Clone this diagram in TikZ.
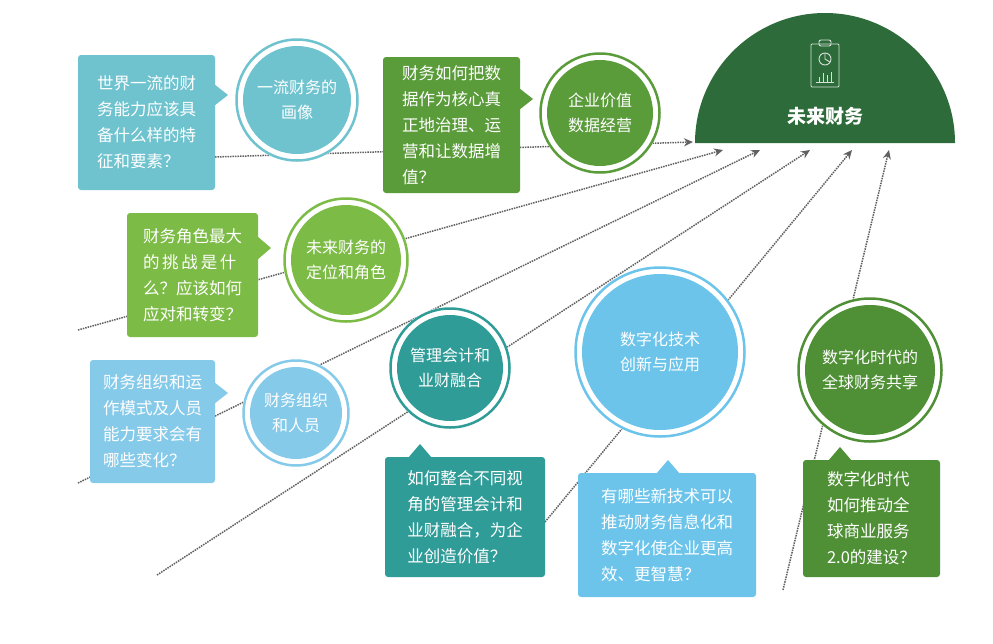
\documentclass[tikz,border=0pt]{standalone}
\usepackage{fontspec}
\setmainfont{Noto Sans CJK SC}
\usetikzlibrary{arrows.meta}
\definecolor{cteal}{HTML}{6EC3CF}
\definecolor{cdg}{HTML}{5A9B3A}
\definecolor{clg}{HTML}{7CBB45}
\definecolor{clb}{HTML}{86CAEA}
\definecolor{cdt}{HTML}{2F9C98}
\definecolor{cblue}{HTML}{6CC4EA}
\definecolor{cgr}{HTML}{4F9036}
\definecolor{cdome}{HTML}{2E6B3A}
\definecolor{cline}{HTML}{606060}
\tikzset{
  qbox/.style={rounded corners=3pt, inner sep=0pt, text=white, align=left,
    font=\fontsize{16.5}{26}\selectfont},
  ctext/.style={text=white, align=center, font=\fontsize{16}{25}\selectfont},
  link/.style={draw=cline, densely dotted, line width=1.5pt, -{Stealth[length=9pt,width=8pt]}},
}
\newcommand{\ring}[4]{% name, center, radius, color
  \fill[white] #2 circle (#3);
  \draw[#4, line width=2.5pt] #2 circle (#3-1.5);
  \fill[#4] #2 circle (#3-8);
  \coordinate (#1) at #2;}
\begin{document}
\begin{tikzpicture}[x=1pt,y=-1pt]
\useasboundingbox (0,0) rectangle (993,643);
\fill[white] (0,0) rectangle (993,643);
% dome
\fill[cdome] (695,143) arc[start angle=180, end angle=360, radius=130] -- cycle;
\node[text=white, font=\fontsize{19}{22}\selectfont\bfseries] (dome) at (825,116) {未来财务};
\begin{scope}[draw=white!80!cdome, line width=0.9pt]
  \draw[rounded corners=1pt] (811,44) rectangle (839,87);
  \draw[rounded corners=2pt] (819,40) rectangle (831,46);
  \draw (825,59) circle (6); \draw (825,53) -- (825,59) -- (830,62);
  \draw (816,82) -- (834,82); \draw (819,82) -- (819,77); \draw (823,82)--(823,73); \draw (827,82)--(827,75); \draw (831,82)--(831,72);
\end{scope}
% arrow end coordinates
\coordinate (e1) at (693,142);
\coordinate (e2) at (723,150);
\coordinate (e3) at (760,150);
\coordinate (e4) at (810,150);
\coordinate (e5) at (852,150);
\coordinate (e6) at (889,150);
\coordinate (s1) at (215,157);
\coordinate (s2) at (78,330);
\coordinate (s3) at (78,483);
\coordinate (s4) at (157,575);
\coordinate (s5) at (545,522);
\coordinate (s6) at (783,590);
\draw[link] (s1) -- (e1);
\draw[link] (s2) -- (e2);
\draw[link] (s3) -- (e3);
\draw[link] (s4) -- (e4);
\draw[link] (s5) -- (e5);
\draw[link] (s6) -- (e6);
% boxes
\fill[cteal, rounded corners=3pt] (78,55) rectangle (215,190);
\fill[cteal] (214,84) -- (228,95) -- (214,106) -- cycle;
\node[qbox] (b1) at (146.5,122.5) {世界一流的财\\务能力应该具\\备什么样的特\\征和要素？};
\fill[cdg, rounded corners=3pt] (383,57) rectangle (520,193);
\fill[cdg] (519,88) -- (533,99) -- (519,110) -- cycle;
\node[qbox] (b2) at (451.5,125) {财务如何把数\\据作为核心真\\正地治理、运\\营和让数据增\\值？};
\fill[clg, rounded corners=3pt] (127,213) rectangle (258,337);
\fill[clg] (257,236) -- (271,248) -- (257,260) -- cycle;
\node[qbox] (b3) at (192.5,275) {财务角色最大\\的\,挑\,战\,是\,什\\么？应该如何\\应对和转变？};
\fill[clb, rounded corners=3pt] (90,360) rectangle (215,483);
\fill[clb] (214,382) -- (228,393) -- (214,404) -- cycle;
\node[qbox] (b4) at (152.5,421.5) {财务组织和运\\作模式及人员\\能力要求会有\\哪些变化？};
\fill[cdt, rounded corners=3pt] (385,457) rectangle (545,577);
\fill[cdt] (408,458) -- (420,444) -- (432,458) -- cycle;
\node[qbox] (b5) at (465,517) {如何整合不同视\\角的管理会计和\\业财融合，为企\\业创造价值？};
\fill[cblue, rounded corners=3pt] (578,473) rectangle (756,597);
\fill[cblue] (656,474) -- (668,460) -- (680,474) -- cycle;
\node[qbox] (b6) at (667,535) {有哪些新技术可以\\推动财务信息化和\\数字化使企业更高\\效、更智慧？};
\fill[cgr, rounded corners=3pt] (803,460) rectangle (940,577);
\fill[cgr] (828,461) -- (840,447) -- (852,461) -- cycle;
\node[qbox] (b7) at (871.5,518.5) {数字化时代\\如何推动全\\球商业服务\\2.0的建设？};
% circles
\ring{c1}{(297,100)}{62}{cteal}
\node[ctext] (t1) at (c1) {一流财务的\\画像};
\ring{c2}{(600,113)}{61}{cdg}
\node[ctext] (t2) at (c2) {企业价值\\数据经营};
\ring{c3}{(346,260)}{63}{clg}
\node[ctext] (t3) at (c3) {未来财务的\\定位和角色};
\ring{c4}{(296,413)}{54}{clb}
\node[ctext] (t4) at (c4) {财务组织\\和人员};
\ring{c5}{(450,368)}{61}{cdt}
\node[ctext] (t5) at (c5) {管理会计和\\业财融合};
\ring{c6}{(660,352)}{86}{cblue}
\node[ctext] (t6) at (c6) {数字化技术\\创新与应用};
\ring{c7}{(870,370)}{73}{cgr}
\node[ctext] (t7) at (c7) {数字化时代的\\全球财务共享};
\end{tikzpicture}
\end{document}
